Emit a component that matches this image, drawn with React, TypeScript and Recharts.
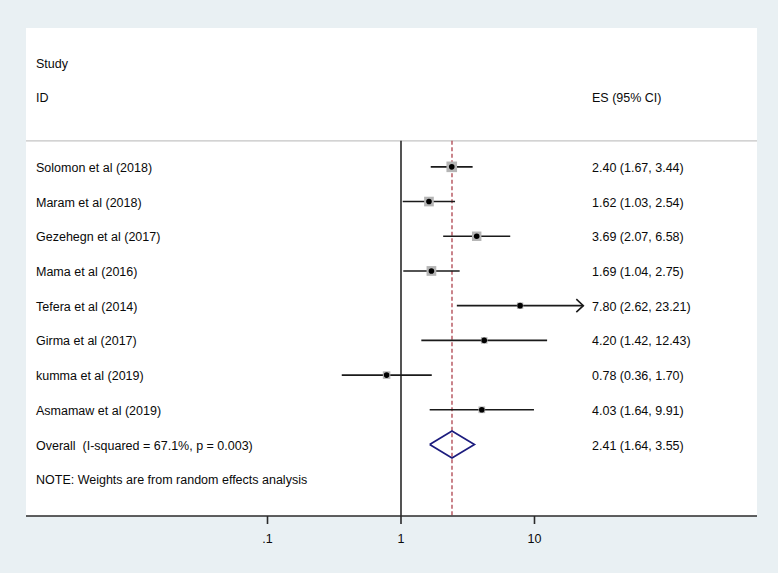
import React from 'react';
import { ScatterChart, Scatter, XAxis, YAxis, ErrorBar, ReferenceLine } from 'recharts';

const studies = [
  'Solomon et al (2018)',
  'Maram et al (2018)',
  'Gezehegn et al (2017)',
  'Mama et al (2016)',
  'Tefera et al (2014)',
  'Girma et al (2017)',
  'kumma et al (2019)',
  'Asmamaw et al (2019)',
];
const es = [2.4, 1.62, 3.69, 1.69, 7.8, 4.2, 0.78, 4.03];
const lower = [1.67, 1.03, 2.07, 1.04, 2.62, 1.42, 0.36, 1.64];
const upper = [3.44, 2.54, 6.58, 2.75, 23.21, 12.43, 1.7, 9.91];
const weights = [16.6, 13.8, 13.2, 14.0, 6.0, 6.4, 8.4, 6.6];
const arrowStudies = ['Tefera et al (2014)'];

const overallLabel = 'Overall  (I-squared = 67.1%, p = 0.003)';
const overallEs = 2.41;
const overallLower = 1.64;
const overallUpper = 3.55;
const noteLabel = 'NOTE: Weights are from random effects analysis';
const headerStudy = 'Study';
const headerId = 'ID';
const headerEs = 'ES (95% CI)';
const xTicks = [0.1, 1, 10];

const X_DOMAIN: [number, number] = [0.001552, 464.3];
const Y_DOMAIN: [number, number] = [-4, 10.06];
const DIAMOND_HALF = 0.39;
const SEPARATOR_ROW = -0.75;

const fmt = (v: number) => v.toFixed(2);

const studyData = studies.map((s, i) => ({
  x: es[i],
  y: i,
  err: [es[i] - lower[i], upper[i] - es[i]],
  w: weights[i],
}));

const arrowData = studies
  .map((s, i) => ({ s, x: upper[i], y: i }))
  .filter((d) => arrowStudies.includes(d.s));

const overallRow = studies.length;
const diamondData = [
  { x: overallLower, y: overallRow },
  { x: overallEs, y: overallRow - DIAMOND_HALF },
  { x: overallUpper, y: overallRow },
  { x: overallEs, y: overallRow + DIAMOND_HALF },
  { x: overallLower, y: overallRow },
];

const rowData = [
  { x: 1, y: -3, left: headerStudy, right: '' },
  { x: 1, y: -2, left: headerId, right: headerEs },
  ...studies.map((s, i) => ({
    x: 1,
    y: i,
    left: s,
    right: `${fmt(es[i])} (${fmt(lower[i])}, ${fmt(upper[i])})`,
  })),
  {
    x: 1,
    y: overallRow,
    left: overallLabel,
    right: `${fmt(overallEs)} (${fmt(overallLower)}, ${fmt(overallUpper)})`,
  },
  { x: 1, y: overallRow + 1, left: noteLabel, right: '' },
];

const FONT = "'Liberation Sans', Arial, Helvetica, sans-serif";
const TEXT_STYLE: React.CSSProperties = { whiteSpace: 'pre' };

const RowText = (p: any) => {
  const d = p.payload;
  return (
    <g>
      <text x={36} y={p.cy + 1} dominantBaseline="central" fontSize={12.5} fontFamily={FONT} fill="#0a0a0a" style={TEXT_STYLE}>
        {d.left}
      </text>
      {d.right ? (
        <text x={592} y={p.cy + 1} dominantBaseline="central" fontSize={12.5} fontFamily={FONT} fill="#0a0a0a" style={TEXT_STYLE}>
          {d.right}
        </text>
      ) : null}
    </g>
  );
};

const StudyMarker = (p: any) => {
  const side = 2.6 * Math.sqrt(p.payload.w);
  return (
    <g>
      <rect x={p.cx - side / 2} y={p.cy - side / 2} width={side} height={side} fill="#b5b5b5" />
      <circle cx={p.cx} cy={p.cy} r={2.8} fill="#000" />
    </g>
  );
};

const Arrow = (p: any) => (
  <polyline
    points={`${p.cx - 7},${p.cy - 6.5} ${p.cx},${p.cy} ${p.cx - 7},${p.cy + 6.5}`}
    fill="none"
    stroke="#1a1a1a"
    strokeWidth={1.6}
  />
);

const Empty = () => <g />;

export default function App() {
  return (
    <div style={{ position: 'absolute', left: 0, top: 0, width: 778, height: 573, background: '#e9f0f3' }}>
      <div style={{ position: 'absolute', left: 26, top: 28, width: 731, height: 488, background: '#ffffff' }} />
      <div style={{ position: 'absolute', left: 0, top: 0 }}>
        <ScatterChart width={778} height={573} margin={{ top: 28, right: 21, bottom: 27, left: 26 }}>
          <XAxis
            type="number"
            dataKey="x"
            scale="log"
            domain={X_DOMAIN}
            allowDataOverflow
            ticks={xTicks}
            tickFormatter={(v: number) => (v === 0.1 ? '.1' : String(v))}
            tickSize={8}
            tickMargin={10}
            height={30}
            axisLine={{ stroke: '#2a2a2a', strokeWidth: 1.6 }}
            tickLine={{ stroke: '#2a2a2a', strokeWidth: 1.6 }}
            tick={{ fill: '#0a0a0a', fontSize: 12.5, fontFamily: FONT }}
          />
          <YAxis type="number" dataKey="y" domain={Y_DOMAIN} reversed hide allowDataOverflow />
          <ReferenceLine y={SEPARATOR_ROW} stroke="#c4c4c4" strokeWidth={1.2} />
          <ReferenceLine
            segment={[
              { x: 1, y: SEPARATOR_ROW },
              { x: 1, y: Y_DOMAIN[1] },
            ]}
            stroke="#2a2a2a"
            strokeWidth={1.6}
          />
          <ReferenceLine
            segment={[
              { x: overallEs, y: SEPARATOR_ROW },
              { x: overallEs, y: Y_DOMAIN[1] },
            ]}
            stroke="#b4505a"
            strokeWidth={1.4}
            strokeDasharray="4 2.5"
          />
          <Scatter data={rowData} shape={RowText} isAnimationActive={false} />
          <Scatter data={studyData} shape={StudyMarker} isAnimationActive={false}>
            <ErrorBar dataKey="err" direction="x" width={0} stroke="#1a1a1a" strokeWidth={1.6} />
          </Scatter>
          <Scatter data={arrowData} shape={Arrow} isAnimationActive={false} />
          <Scatter
            data={diamondData}
            shape={Empty}
            line={{ stroke: '#1c1c7e', strokeWidth: 1.7 }}
            lineType="joint"
            isAnimationActive={false}
          />
        </ScatterChart>
      </div>
    </div>
  );
}
